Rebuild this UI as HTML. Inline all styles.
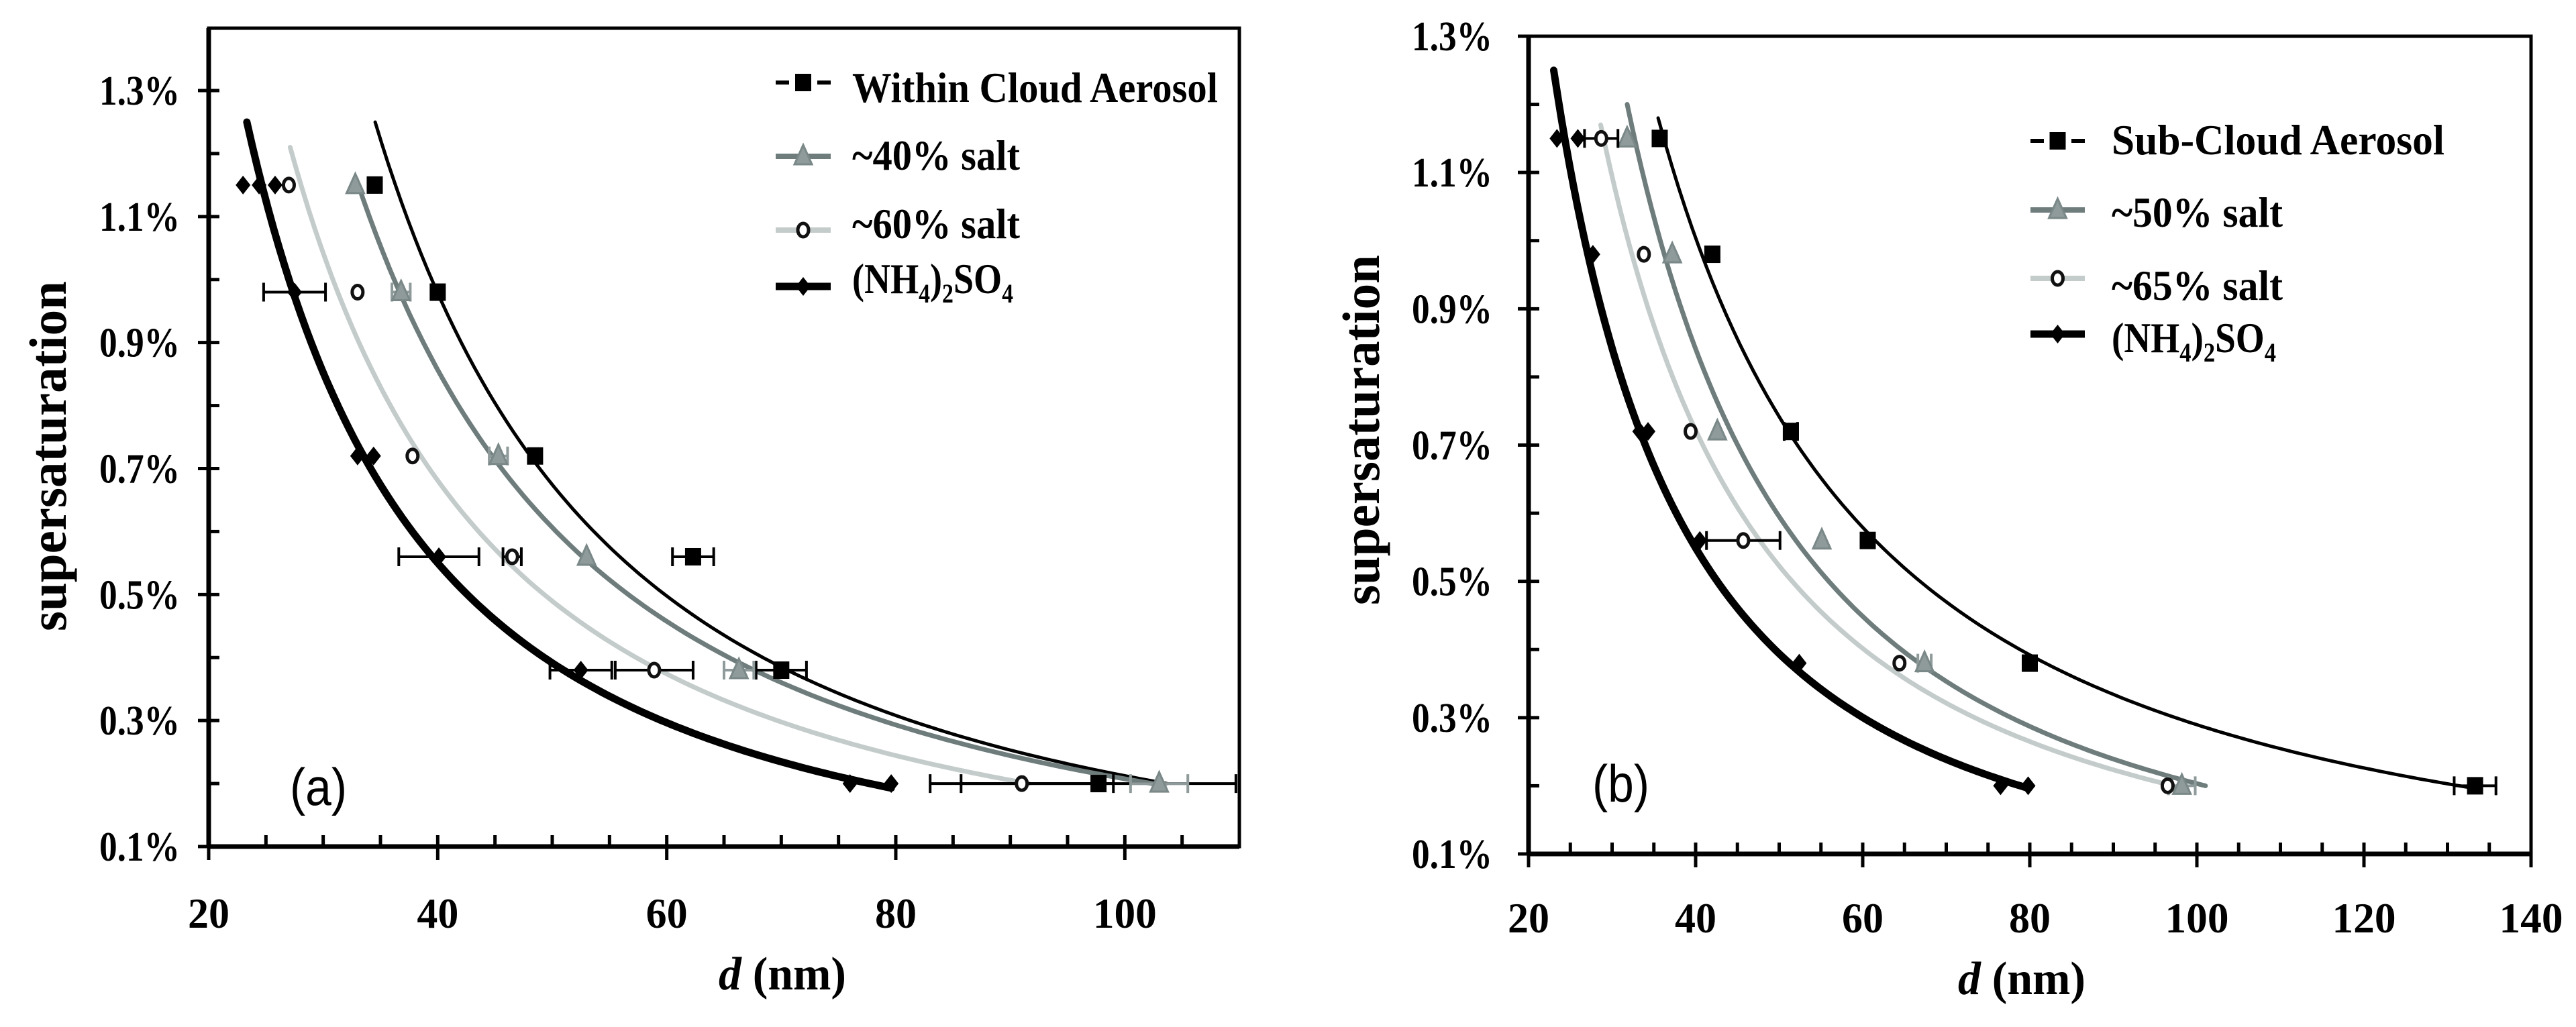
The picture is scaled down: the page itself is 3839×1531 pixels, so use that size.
<!DOCTYPE html>
<html><head><meta charset="utf-8">
<style>
html,body{margin:0;padding:0;background:#fff;}
svg{display:block;}
text{font-family:"Liberation Serif",serif;}
text.sans{font-family:"Liberation Sans",sans-serif;}
</style></head>
<body>
<svg id="fig" width="3839" height="1531" viewBox="0 0 3839 1531" xmlns="http://www.w3.org/2000/svg"></svg>
<script>
// ---- shared supersaturation levels (%) ----
const ssLevels = [1.15, 0.98, 0.72, 0.56, 0.38, 0.20];
const yTickLabels = ["0.1%","0.3%","0.5%","0.7%","0.9%","1.1%","1.3%"];
const yTickValues = [0.1,0.3,0.5,0.7,0.9,1.1,1.3];

// ---- panel (a) data: diameters d (nm) ----
const aCategories = ["Within Cloud Aerosol","~40% salt","~60% salt","(NH4)2SO4"];
const aCloud = [34.5, 40.0, 48.5, 62.3, 70.0, 97.7];
const aCloudErr = [0, 0, 0, 1.8, 2.2, 12];
const aSalt40 = [32.8, 36.8, 45.3, 53.0, 66.3, 103.0];
const aSalt40Err = [0, 0.8, 0.8, 0, 1.3, 2.5];
const aSalt60 = [27.0, 33.0, 37.8, 46.5, 58.9, 91.0];
const aSalt60Err = [0, 0, 0, 0.8, 3.4, 8];
const aAmm = [24.4, 27.5, 33.0, 40.1, 52.5, 76.0];
const aAmmExtra = [23.0, null, 34.4, null, null, 79.6];
const aAmmExtra2 = [25.8, null, null, null, null, null];
const aAmmErr = [0, 2.7, 0, 3.5, 2.7, 0];
const aXTicks = [20, 40, 60, 80, 100];

// ---- panel (b) data ----
const bCategories = ["Sub-Cloud Aerosol","~50% salt","~65% salt","(NH4)2SO4"];
const bSub = [35.7, 42.0, 51.4, 60.6, 80.0, 133.3];
const bSubErr = [0, 0, 0.8, 0, 0, 2.5];
const bSalt50 = [31.8, 37.2, 42.6, 55.1, 67.4, 98.2];
const bSalt50Err = [0, 0, 0, 0, 0.8, 1.6];
const bSalt65 = [28.7, 33.8, 39.4, 45.7, 64.4, 96.5];
const bSalt65Err = [2.0, 0, 0, 4.4, 0, 0];
const bAmm = [23.4, 27.7, 33.3, 40.5, 52.4, 76.5];
const bAmmExtra = [25.9, null, 34.3, null, null, 79.8];
const bAmmErr = [0, 0, 0, 0, 0, 0];
const bXTicks = [20, 40, 60, 80, 100, 120, 140];

const NS = "http://www.w3.org/2000/svg";
const svg = document.getElementById("fig");
function mk(tag, attrs, parent){
  const e = document.createElementNS(NS, tag);
  for (const k in attrs) e.setAttribute(k, attrs[k]);
  (parent||svg).appendChild(e);
  return e;
}

// power-law fit s = A d^b via log-log least squares
function powerFit(ds, ss){
  let n=0,sx=0,sy=0,sxx=0,sxy=0;
  for (let i=0;i<ds.length;i++){ if(ds[i]==null) continue;
    const x=Math.log(ds[i]), y=Math.log(ss[i]);
    n++; sx+=x; sy+=y; sxx+=x*x; sxy+=x*y; }
  const b=(n*sxy-sx*sy)/(n*sxx-sx*sx);
  const a=(sy-b*sx)/n;
  return {A:Math.exp(a), b:b};
}

function panel(cfg){
  const g = mk("g", {});
  
  
  const X = v => cfg.x0 + (v - cfg.xmin) / (cfg.xmax - cfg.xmin) * (cfg.x1 - cfg.x0);
  const Y = v => cfg.y0 - (v - 0.1) / (cfg.ymaxTick - 0.1) * (cfg.y0 - cfg.yTickTop);
  const clip = mk("clipPath", {id: cfg.name+"-clip"}, g);
  mk("rect", {x:cfg.x0, y:cfg.top, width:cfg.x1-cfg.x0, height:cfg.y0-cfg.top}, clip);

  const tg = mk("g", {}, g);
  
  
  for (let v = 0.1; v <= cfg.ymaxTick + 1e-6; v += 0.1){
    const y = Y(v);
    const major = Math.round(v*10) % 2 === 1;
    mk("line", {x1: major ? cfg.x0-16 : cfg.x0, x2: cfg.x0+16, y1:y, y2:y, stroke:"#000","stroke-width":5}, tg);
  }
  const xg = mk("g", {}, g);
  
  
  for (let v = cfg.xmin; v <= cfg.xmax + 1e-6; v += 5){
    const x = X(v);
    const major = v % 20 === 0;
    mk("line", {x1:x, x2:x, y1:cfg.y0-17, y2: major ? cfg.y0+20 : cfg.y0, stroke:"#000","stroke-width":5}, xg);
  }
  yTickValues.forEach((v,i)=>{
    if (v > cfg.ymaxTick + 1e-6) return;
    const t = mk("text", {x:cfg.ylabX, y:Y(v)+21, "text-anchor":"end", "font-size":62, "font-weight":"bold", textLength:120, lengthAdjust:"spacingAndGlyphs"}, g);
    t.textContent = yTickLabels[i];
    
    
  });
  cfg.xTicks.forEach(v=>{
    const t = mk("text", {x:X(v), y:cfg.xlabY, "text-anchor":"middle", "font-size":64, "font-weight":"bold", textLength: v>=100?95:62, lengthAdjust:"spacingAndGlyphs"}, g);
    t.textContent = String(v);
    
    
  });

  const cg = mk("g", {"clip-path":"url(#"+cfg.name+"-clip)"}, g);
  cfg.series.forEach(s=>{
    const f = powerFit(s.d, ssLevels);
    const dStart = Math.pow(s.top / f.A, 1/f.b);
    let dMax = Math.max(...s.d);
    if (s.extra) s.extra.forEach(v=>{ if(v!=null && v>dMax) dMax=v; });
    const dEnd = Math.max(Math.pow(0.2 / f.A, 1/f.b), dMax);
    let pts = [];
    for (let i=0;i<=120;i++){
      const d = dStart + (dEnd-dStart)*i/120;
      pts.push(X(d).toFixed(1)+","+Y(f.A*Math.pow(d,f.b)).toFixed(1));
    }
    const p = mk("polyline", {points:pts.join(" "), fill:"none", stroke:s.line, "stroke-width":s.lw, "stroke-linecap":"round"}, cg);
    
    
  });
  const mg = mk("g", {"clip-path":"url(#"+cfg.name+"-clip)"}, g);
  cfg.series.forEach(s=>{
    s.d.forEach((d,i)=>{
      const y = Y(ssLevels[i]);
      const e = s.err ? s.err[i] : 0;
      if (e > 0){
        const eb = mk("path", {d:`M${X(d-e)},${y}H${X(d+e)}M${X(d-e)},${y-14}V${y+14}M${X(d+e)},${y-14}V${y+14}`, stroke:s.errColor||"#000", "stroke-width":4, fill:"none"}, mg);
        
        
      }
      const m = marker(mg, s.marker, X(d), y, s.mfill);
      
      
      [s.extra, s.extra2].forEach(arr=>{
        if (arr && arr[i] != null){
          const m2 = marker(mg, s.marker, X(arr[i]), y, s.mfill);
          
          
        }
      });
    });
  });

  const fr = mk("path", {d:`M${cfg.x0},${cfg.top}H${cfg.x1}V${cfg.y0}H${cfg.x0}Z`, fill:"none", stroke:"#000", "stroke-width":5}, g);
  
  
  mk("line", {x1:cfg.x0, x2:cfg.x0, y1:cfg.top, y2:cfg.y0, stroke:"#000","stroke-width":7}, g);
  mk("line", {x1:cfg.x0, x2:cfg.x1, y1:cfg.y0, y2:cfg.y0, stroke:"#000","stroke-width":7}, g);

  cfg.series.forEach((s,i)=>{
    const lg = mk("g", {}, g);
    
    
    const ly = cfg.leg.lineY[i];
    if (s.key.indexOf('cloud')>=0){
      mk("line", {x1:cfg.leg.x0, x2:cfg.leg.x0+20, y1:ly, y2:ly, stroke:s.line, "stroke-width":6}, lg);
      mk("line", {x1:cfg.leg.x1-20, x2:cfg.leg.x1, y1:ly, y2:ly, stroke:s.line, "stroke-width":6}, lg);
    } else {
      mk("line", {x1:cfg.leg.x0, x2:cfg.leg.x1, y1:ly, y2:ly, stroke:s.line, "stroke-width":Math.max(s.lw,8)}, lg);
    }
    marker(lg, s.marker, (cfg.leg.x0+cfg.leg.x1)/2, ly, s.mfill);
    const t = mk("text", {x:cfg.leg.tx, y:cfg.leg.base[i], "font-size":64, "font-weight":"bold", textLength:cfg.leg.w[i], lengthAdjust:"spacingAndGlyphs"}, lg);
    if (i===3){
      t.innerHTML = '(NH<tspan font-size="40" dy="14">4</tspan><tspan dy="-14">)</tspan><tspan font-size="40" dy="14">2</tspan><tspan dy="-14">SO</tspan><tspan font-size="40" dy="14">4</tspan>';
    } else t.textContent = cfg.legText[i];
  });

  const yt = mk("text", {x:0, y:0, transform:`translate(${cfg.ytitleX},${cfg.ytitleY}) rotate(-90)`, "text-anchor":"middle", "font-size":78, "font-weight":"bold", textLength:522, lengthAdjust:"spacingAndGlyphs"}, g);
  yt.textContent = "supersaturation";
  
  
  const xt = mk("text", {x:cfg.xtitleX, y:cfg.xtitleY, "font-size":70, "font-weight":"bold", textLength:190, lengthAdjust:"spacingAndGlyphs"}, g);
  xt.innerHTML = '<tspan font-style="italic">d</tspan> (nm)';
  
  
  const pl = mk("text", {x:cfg.plX, y:cfg.plY, "font-size":78, "class":"sans", textLength:85, lengthAdjust:"spacingAndGlyphs"}, g);
  pl.textContent = cfg.panelLabel;
  
  
}

function marker(parent, type, x, y, fill){
  if (type==="square") return mk("rect", {x:x-12, y:y-13, width:24, height:26, fill:fill}, parent);
  if (type==="triangle") return mk("path", {d:`M${x},${y-17}L${x+13},${y+12}L${x-13},${y+12}Z`, fill:fill, stroke:"#7a8888","stroke-width":3}, parent);
  if (type==="circle") return mk("ellipse", {cx:x, cy:y, rx:8, ry:10, fill:"#fff", stroke:"#111", "stroke-width":5}, parent);
  return mk("path", {d:`M${x},${y-14}L${x+11},${y}L${x},${y+14}L${x-11},${y}Z`, fill:fill}, parent);
}

panel({
  name:"panel-a", x0:311, x1:1847, xmin:20, xmax:110, y0:1262, top:42, yTickTop:135, ymaxTick:1.3,
  xTicks:aXTicks, ylabX:268, xlabY:1383,
  series:[
    {key:"cloud", d:aCloud, err:aCloudErr, marker:"square", mfill:"#000", line:"#000", lw:5, top:1.25},
    {key:"salt40", d:aSalt40, err:aSalt40Err, marker:"triangle", mfill:"#8f9a9a", line:"#6e7c7c", lw:7, top:1.16, errColor:"#8f9a9a"},
    {key:"salt60", d:aSalt60, err:aSalt60Err, marker:"circle", mfill:"#fff", line:"#c4cccb", lw:7, top:1.21},
    {key:"ammonium", d:aAmm, extra:aAmmExtra, extra2:aAmmExtra2, err:aAmmErr, marker:"diamond", mfill:"#000", line:"#000", lw:11, top:1.25}
  ],
  legText:aCategories,
  leg:{x0:1156, x1:1238, tx:1270, lineY:[123,233,343,427], base:[152,253,355,437], w:[545,250,250,240]},
  ytitleX:98, ytitleY:680, xtitleX:1071, xtitleY:1475, plX:432, plY:1200, panelLabel:"(a)"
});
panel({
  name:"panel-b", x0:2278, x1:3772, xmin:20, xmax:140, y0:1273, top:54, yTickTop:54, ymaxTick:1.3,
  xTicks:bXTicks, ylabX:2224, xlabY:1390,
  series:[
    {key:"subcloud", d:bSub, err:bSubErr, marker:"square", mfill:"#000", line:"#000", lw:5, top:1.18},
    {key:"salt50", d:bSalt50, err:bSalt50Err, marker:"triangle", mfill:"#8f9a9a", line:"#6e7c7c", lw:7, top:1.20, errColor:"#8f9a9a"},
    {key:"salt65", d:bSalt65, err:bSalt65Err, marker:"circle", mfill:"#fff", line:"#c4cccb", lw:7, top:1.17},
    {key:"ammonium", d:bAmm, extra:bAmmExtra, err:bAmmErr, marker:"diamond", mfill:"#000", line:"#000", lw:11, top:1.25}
  ],
  legText:bCategories,
  leg:{x0:3026, x1:3107, tx:3147, lineY:[210,313,415,498], base:[230,338,447,525], w:[496,255,255,245]},
  ytitleX:2055, ytitleY:641, xtitleX:2918, xtitleY:1482, plX:2373, plY:1195, panelLabel:"(b)"
});
</script>
</body></html>
